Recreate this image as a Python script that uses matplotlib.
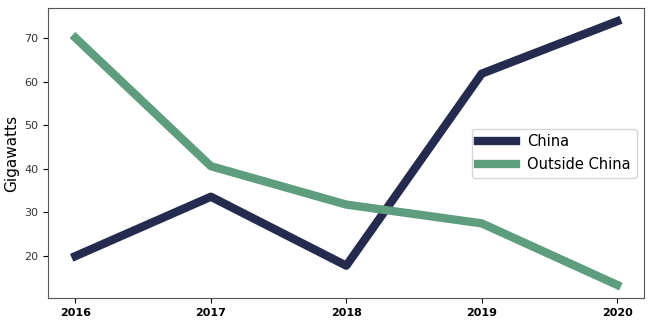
import matplotlib
matplotlib.use("Agg")
import matplotlib.pyplot as plt

years = [2016, 2017, 2018, 2019, 2020]
china = [20.0, 33.6, 17.8, 61.8, 73.8]
outside_china = [70.0, 40.6, 31.8, 27.5, 13.4]

fig, ax = plt.subplots(figsize=(6.54, 3.24), dpi=100)
fig.subplots_adjust(left=0.074, right=0.985, top=0.975, bottom=0.08)

ax.plot(years, china, color="#252a4f", linewidth=6, label="China")
ax.plot(years, outside_china, color="#5e9e7e", linewidth=6, label="Outside China")

ax.set_xticks(years)
ax.set_xticklabels([str(y) for y in years], fontsize=8, fontweight="bold")
ax.set_yticks([20, 30, 40, 50, 60, 70])
ax.tick_params(axis="y", labelsize=8, labelcolor="#333333")
ax.set_ylabel("Gigawatts", fontsize=11)
for s in ax.spines.values():
    s.set_color("#555555")

ax.legend(loc="center right", fontsize=10.5, handlelength=2.6)

plt.savefig("out.png")
